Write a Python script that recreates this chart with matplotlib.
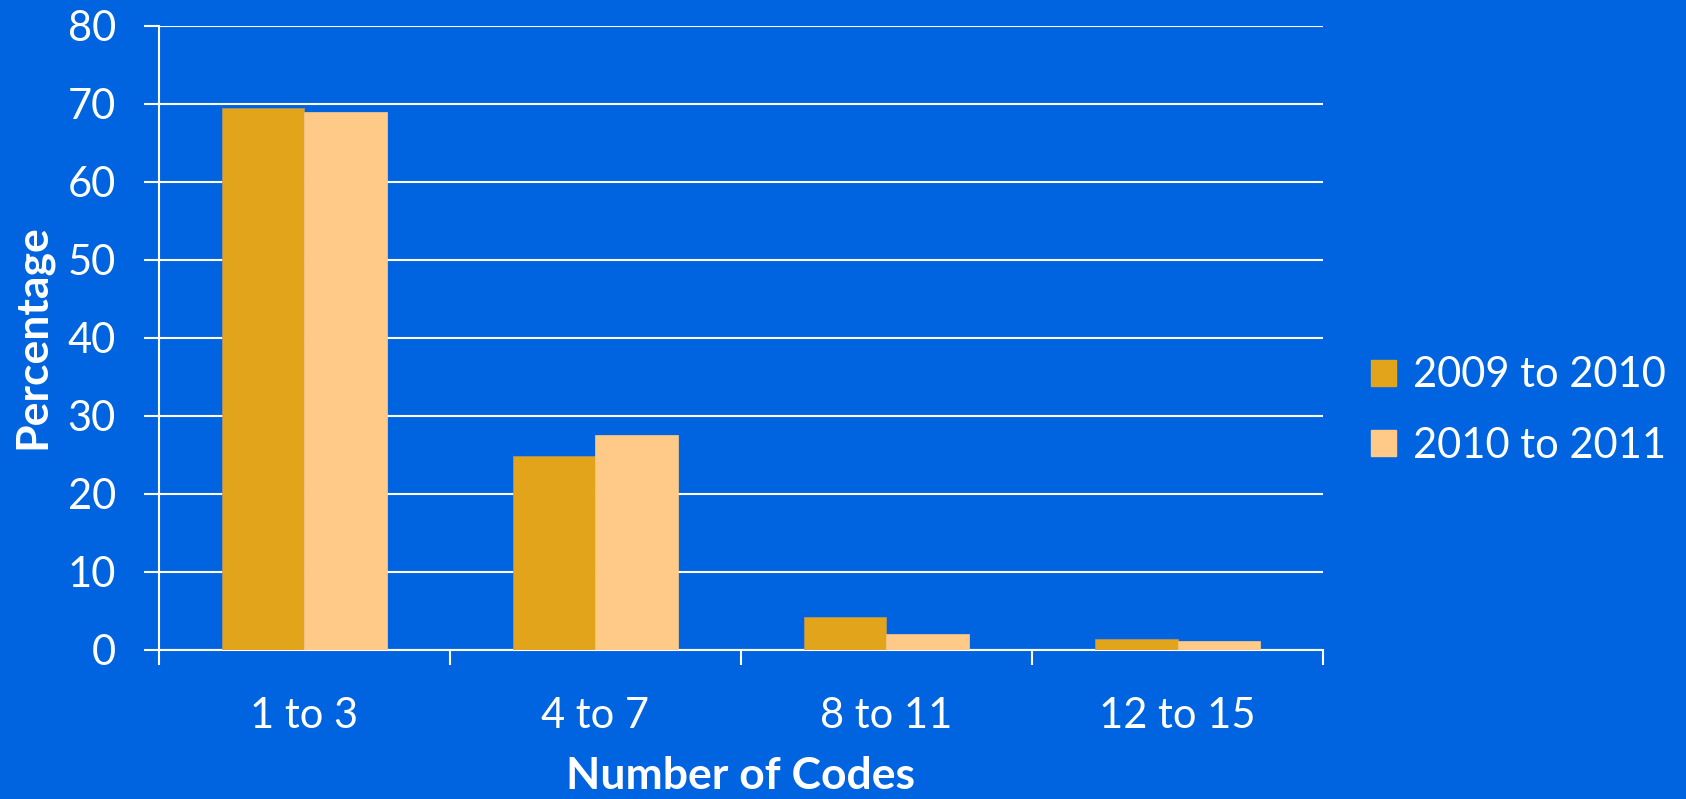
import matplotlib
matplotlib.use("Agg")
import matplotlib.pyplot as plt
import numpy as np
from matplotlib.patches import Patch

categories = ["1 to 3", "4 to 7", "8 to 11", "12 to 15"]
series_names = ["2009 to 2010", "2010 to 2011"]
values_2009 = [69.4, 24.9, 4.2, 1.4]
values_2010 = [68.9, 27.6, 2.1, 1.15]
yticks = [0, 10, 20, 30, 40, 50, 60, 70, 80]

bg = "#0064E1"
c1 = "#E2A41B"
c2 = "#FFCA87"
font = ["Lato", "DejaVu Sans"]
plt.rcParams["font.family"] = font

fig = plt.figure(figsize=(16.86, 7.99), dpi=100, facecolor=bg)
ax = fig.add_axes([0.0943, 0.1865, 0.6904, 0.7813], facecolor=bg)

x = np.arange(len(categories))
w = 0.285
ax.bar(x - w / 2, values_2009, w, color=c1, edgecolor="#B8955A", linewidth=0.5, zorder=3)
ax.bar(x + w / 2, values_2010, w, color=c2, edgecolor=c2, linewidth=0.5, zorder=3)

ax.set_xlim(-0.5, 3.5)
ax.set_ylim(0, 80)
ax.set_yticks(yticks)
ax.set_yticklabels([str(v) for v in yticks])
ax.yaxis.grid(True, color="white", linewidth=1.5, zorder=1)
ax.set_axisbelow(True)

ax.set_xticks(x)
ax.set_xticklabels(categories)
ax.set_xticks(np.arange(-0.5, 4.0, 1.0), minor=True)
ax.tick_params(axis="x", which="major", length=0, pad=34, labelsize=30, colors="white")
ax.tick_params(axis="x", which="minor", length=11, width=1.5, color="white", direction="out")
ax.tick_params(axis="y", length=11, width=1.5, color="white", pad=20, labelsize=30, labelcolor="white")

for s in ["top", "right"]:
    ax.spines[s].set_visible(False)
for s in ["left", "bottom"]:
    ax.spines[s].set_color("white")
    ax.spines[s].set_linewidth(1.5)

fig.text(0.019, 1 - 337 / 799, "Percentage", rotation=90, ha="center", va="center",
         fontsize=32, fontweight="bold", color="white")
fig.text(740 / 1686, 1 - 776 / 799, "Number of Codes", ha="center", va="center",
         fontsize=32, fontweight="bold", color="white")

handles = [Patch(facecolor=c1, edgecolor=c1), Patch(facecolor=c2, edgecolor=c2)]
leg = fig.legend(handles, series_names, loc="center left", bbox_to_anchor=(0.801, 0.486),
                 frameon=False, fontsize=30, handlelength=0.6, handleheight=0.6,
                 handletextpad=0.4, labelspacing=0.78, borderpad=0)
for t in leg.get_texts():
    t.set_color("white")

fig.savefig("out.png", dpi=100, facecolor=bg)
